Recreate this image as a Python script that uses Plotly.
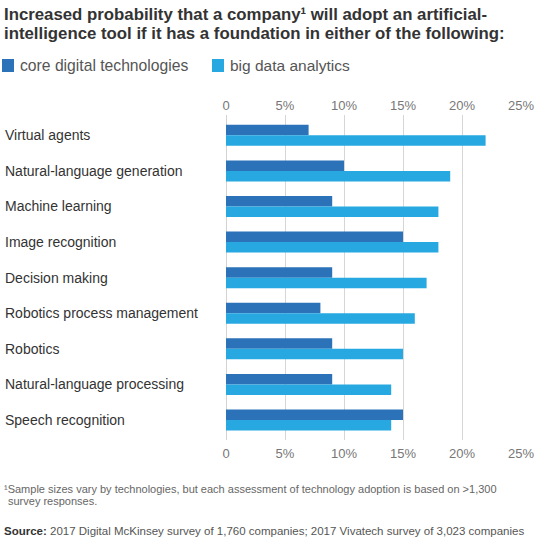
import plotly.graph_objects as go

categories = ["Virtual agents", "Natural-language generation", "Machine learning",
              "Image recognition", "Decision making", "Robotics process management",
              "Robotics", "Natural-language processing", "Speech recognition"]
core_digital = [7, 10, 9, 15, 9, 8, 9, 9, 15]
big_data = [22, 19, 18, 18, 17, 16, 15, 14, 14]
series_names = ["core digital technologies", "big data analytics"]
tick_vals = [0, 5, 10, 15, 20, 25]
tick_text = ["0", "5%", "10%", "15%", "20%", "25%"]

DARK = "#2b72b8"
LIGHT = "#27a8e0"
FONT = "Liberation Sans, Arial, sans-serif"
TOP, BOTTOM = 115, 440  # plot area in page pixels

fig = go.Figure()
fig.add_trace(go.Bar(name=series_names[0], y=categories, x=core_digital,
                     orientation="h", marker_color=DARK, marker_line_width=0))
fig.add_trace(go.Bar(name=series_names[1], y=categories, x=big_data,
                     orientation="h", marker_color=LIGHT, marker_line_width=0))
# invisible trace to carry the top axis
fig.add_trace(go.Scatter(x=[0, 25], y=[categories[0], categories[0]], xaxis="x2",
                         mode="markers", marker_opacity=0, showlegend=False,
                         hoverinfo="skip"))

axis_common = dict(range=[0, 25], tickvals=tick_vals, ticktext=tick_text,
                   showgrid=True, gridcolor="#d6d6d6", gridwidth=1,
                   zeroline=False, showline=False, ticks="",
                   tickfont=dict(family=FONT, size=13, color="#777"))

fig.update_layout(
    width=552, height=540, autosize=False,
    margin=dict(l=226, r=31, t=TOP, b=540 - BOTTOM, autoexpand=False),
    paper_bgcolor="white", plot_bgcolor="white",
    barmode="group", bargap=0.41, bargroupgap=0,
    font=dict(family=FONT, color="#333"),
    showlegend=False,
    xaxis=dict(**axis_common, ticklabelstandoff=4),
    xaxis2=dict(**axis_common, overlaying="x", side="top", ticklabelstandoff=1),
    yaxis=dict(range=[8.56, -0.57], showticklabels=False, showgrid=False,
               zeroline=False, showline=False),
)

# zero line
fig.add_vline(x=0, line_color="#c4c4c4", line_width=1.5, layer="below")


def page_text(text, x_page, y_page, size, color, weight="normal"):
    # place a text by its left edge / vertical middle in page pixels
    fig.add_annotation(text=text, x=0, xref="paper", xshift=x_page - 226, xanchor="left",
                       y=1, yref="paper", yshift=TOP - y_page, yanchor="middle",
                       align="left", showarrow=False, borderpad=0,
                       font=dict(family=FONT, size=size, color=color, weight=weight))


# title
page_text("Increased probability that a company\u00b9 will adopt an artificial-",
          3, 14, 16.8, "#333", "bold")
page_text("intelligence tool if it has a foundation in either of the following:",
          3, 33, 16.8, "#333", "bold")

# legend: swatches + labels
for name, color, sq_x, txt_x, size in [(series_names[0], DARK, 2, 19, 15.7),
                                       (series_names[1], LIGHT, 212, 229, 15.5)]:
    fig.add_shape(type="rect", xref="paper", yref="paper",
                  xsizemode="pixel", ysizemode="pixel", xanchor=0, yanchor=1,
                  x0=sq_x - 226, x1=sq_x - 214, y0=TOP - 72, y1=TOP - 59,
                  fillcolor=color, line_width=0)
    page_text(name, txt_x, 65, size, "#555")

# category labels, left aligned
for cat in categories:
    fig.add_annotation(text=cat, x=0, xref="paper", xshift=-223, xanchor="left",
                       y=cat, yref="y", yanchor="middle", showarrow=False,
                       font=dict(family=FONT, size=14, color="#333"))

# footnote and source
page_text("\u00b9Sample sizes vary by technologies, but each assessment of technology "
          "adoption is based on >1,300", 3, 489, 11, "#666")
page_text("survey responses.", 7, 501, 11, "#666")
page_text("<b>Source:</b> <span style='color:#555'>2017 Digital McKinsey survey of 1,760 "
          "companies; 2017 Vivatech survey of 3,023 companies</span>",
          3, 531, 11.5, "#333")

fig.write_html("out.html", config={"displayModeBar": False},
               post_script="document.body.style.margin='0';")
